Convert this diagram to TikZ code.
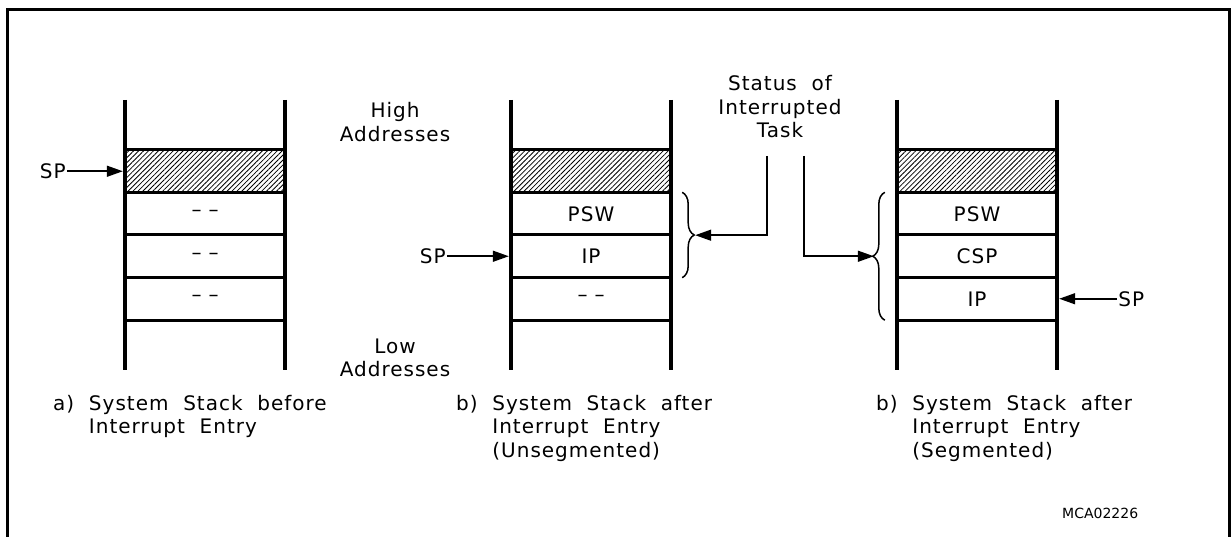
\documentclass[tikz,border=0pt]{standalone}
\usepackage{fontspec}
\setmainfont[LetterSpace=5,WordSpace=2]{DejaVu Sans}
\newfontfamily\codefont{DejaVu Sans}
\usetikzlibrary{arrows.meta,positioning,calc,patterns.meta,decorations.pathreplacing}

\tikzset{
  rail/.style={line width=4pt},
  rowline/.style={line width=3pt},
  cell/.style={minimum width=160pt, minimum height=42.5pt, inner sep=0pt, font=\fontsize{20}{23.5}\selectfont},
  hatch/.style={pattern={Lines[angle=45,distance=3.5pt,line width=0.8pt]}},
  ptr/.style={line width=1.5pt, -{Triangle[length=16pt,width=11pt]}},
  lbl/.style={font=\fontsize{20}{23.5}\selectfont, inner sep=1pt},
  curly/.style={line width=1.5pt, decorate, decoration={brace,amplitude=12pt,aspect=0.5}}
}
\newcommand{\emptyslot}{\textendash\hspace{7pt}\textendash}

\begin{document}
\begin{tikzpicture}[x=1pt,y=-1pt]
    \useasboundingbox (0,0) rectangle (1231,537);
    % frame, open at the bottom
    \draw[line width=3pt] (7,537) -- (7,10) -- (1229,10) -- (1229,537);

    % a) stack before interrupt entry
    \begin{scope}[shift={(125,0)}]
        \fill[hatch] (0,150) rectangle (160,192.5);
        \foreach \y in {150,192.5,235,277.5,320}
            \draw[rowline] (0,\y) -- (160,\y);
        \draw[rail] (0,100) -- (0,370) (160,100) -- (160,370);
        \node[cell] (a0) at (80,171.25) {};
        \node[cell] (a1) at (80,213.75) {\emptyslot};
        \node[cell] (a2) at (80,256.25) {\emptyslot};
        \node[cell] (a3) at (80,298.75) {\emptyslot};
    \end{scope}

    % b) unsegmented
    \begin{scope}[shift={(511,0)}]
        \fill[hatch] (0,150) rectangle (160,192.5);
        \foreach \y in {150,192.5,235,277.5,320}
            \draw[rowline] (0,\y) -- (160,\y);
        \draw[rail] (0,100) -- (0,370) (160,100) -- (160,370);
        \node[cell] (b0) at (80,171.25) {};
        \node[cell] (bpsw) at (80,213.75) {PSW};
        \node[cell] (bip) at (80,256.25) {IP};
        \node[cell] (b3) at (80,298.75) {\emptyslot};
    \end{scope}

    % b) segmented
    \begin{scope}[shift={(897,0)}]
        \fill[hatch] (0,150) rectangle (160,192.5);
        \foreach \y in {150,192.5,235,277.5,320}
            \draw[rowline] (0,\y) -- (160,\y);
        \draw[rail] (0,100) -- (0,370) (160,100) -- (160,370);
        \node[cell] (c0) at (80,171.25) {};
        \node[cell] (cpsw) at (80,213.75) {PSW};
        \node[cell] (ccsp) at (80,256.25) {CSP};
        \node[cell] (cip) at (80,298.75) {IP};
    \end{scope}

    % stack pointers
    \node[lbl, left=58pt of a0.west] (spa) {SP};
    \node[lbl, left=64pt of bip.west] (spb) {SP};
    \node[lbl, right=60pt of cip.east] (spc) {SP};
    \draw[ptr, shorten >=2pt] (spa) -- (a0.west);
    \draw[ptr, shorten >=2pt] (spb) -- (bip.west);
    \draw[ptr, shorten >=2pt] (spc) -- (cip.east);

    % address labels
    \node[lbl, align=center] (high) at (395,122) {High\\Addresses};
    \node[lbl, align=center] (low) at (395,358) {Low\\Addresses};

    % saved status
    \node[lbl, align=center] (status) at (780,107) {Status of\\Interrupted\\Task};
    \draw[curly] ($(bpsw.north east)+(11,0)$) -- ($(bip.south east)+(11,0)$);
    \draw[curly] ($(cip.south west)+(-12,0)$) -- ($(cpsw.north west)+(-12,0)$);
    \coordinate (tipb) at ($(bpsw.south east)+(24,0)$);
    \coordinate (tipc) at ($(ccsp.west)+(-23,0)$);
    \coordinate (s1) at (767,156);
    \coordinate (s2) at (804,156);
    \draw[ptr] (s1) |- (tipb);
    \draw[ptr] (s2) |- (tipc);

    % captions
    \node[lbl, anchor=north west, align=left] (capa) at (52,394)
        {a)~System Stack before\\\hphantom{a)~}Interrupt Entry};
    \node[lbl, anchor=north west, align=left] (capb) at (455,394)
        {b)~System Stack after\\\hphantom{b)~}Interrupt Entry\\\hphantom{b)~}(Unsegmented)};
    \node[lbl, anchor=north west, align=left] (capc) at (875,394)
        {b)~System Stack after\\\hphantom{b)~}Interrupt Entry\\\hphantom{b)~}(Segmented)};
    \node[font=\codefont\fontsize{14}{16}\selectfont, anchor=west, inner sep=0pt] (code) at (1062,513) {MCA02226};
\end{tikzpicture}
\end{document}
